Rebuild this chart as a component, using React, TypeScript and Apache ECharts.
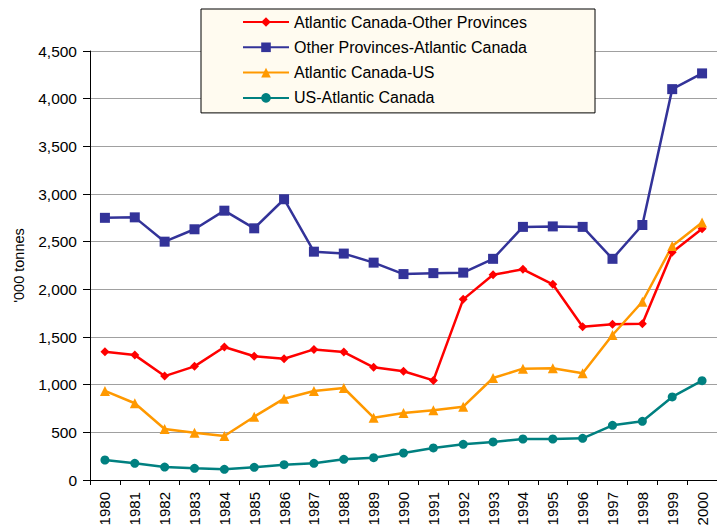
import React, { useEffect, useRef } from "react";
import * as echarts from "echarts";

const years = ["1980","1981","1982","1983","1984","1985","1986","1987","1988","1989","1990","1991","1992","1993","1994","1995","1996","1997","1998","1999","2000"];
const atlToOther = [1345,1310,1090,1192,1395,1298,1272,1370,1342,1182,1140,1045,1895,2153,2210,2053,1608,1633,1640,2390,2636];
const otherToAtl = [2750,2755,2500,2630,2825,2640,2945,2395,2375,2280,2160,2170,2175,2320,2655,2660,2655,2320,2675,4100,4265];
const atlToUS = [934,805,535,496,462,664,853,934,965,654,703,731,769,1070,1168,1172,1119,1521,1870,2455,2700];
const usToAtl = [210,175,136,123,112,133,161,175,217,234,283,336,374,399,430,430,437,574,616,871,1042];
const yTicks = { min: 0, max: 4500, interval: 500 };

const FONT = "'Liberation Sans', Arial, sans-serif";

export default function App() {
  const ref = useRef<HTMLDivElement>(null);
  useEffect(() => {
    if (!ref.current) return;
    const chart = echarts.init(ref.current, undefined, { renderer: "svg" });
    const mk = (name: string, data: number[], color: string, symbol: string, size: number) => ({
      name,
      type: "line",
      data,
      symbol,
      symbolSize: size,
      showAllSymbol: true,
      lineStyle: { color, width: 2.5 },
      itemStyle: { color },
      emphasis: { disabled: true },
    });
    chart.setOption({
      animation: false,
      backgroundColor: "#ffffff",
      textStyle: { fontFamily: FONT },
      grid: { left: 90, right: -9.3, top: 51, bottom: 49, containLabel: false },
      legend: {
        orient: "vertical",
        left: 201,
        top: 9,
        backgroundColor: "#FFFBF0",
        borderColor: "#000000",
        borderWidth: 1,
        padding: [5, 68, 7, 41],
        itemWidth: 46,
        itemHeight: 12,
        itemGap: 9.3,
        textStyle: { fontSize: 16, color: "#000", fontFamily: FONT },
        data: [
          "Atlantic Canada-Other Provinces",
          "Other Provinces-Atlantic Canada",
          "Atlantic Canada-US",
          "US-Atlantic Canada",
        ],
      },
      xAxis: {
        type: "category",
        data: years,
        boundaryGap: true,
        axisLine: { lineStyle: { color: "#000", width: 1 } },
        axisTick: { show: true, alignWithLabel: false, length: 5, lineStyle: { color: "#000" } },
        axisLabel: { rotate: 90, fontSize: 15, color: "#000", margin: 12, fontFamily: FONT, interval: 0 },
        splitLine: { show: false },
      },
      yAxis: {
        type: "value",
        min: yTicks.min,
        max: yTicks.max,
        interval: yTicks.interval,
        name: "'000 tonnes",
        nameLocation: "middle",
        nameGap: 64,
        nameRotate: 90,
        nameTextStyle: { fontSize: 14.5, color: "#000", fontFamily: FONT },
        axisLine: { show: true, lineStyle: { color: "#000", width: 1 } },
        axisTick: { show: true, length: 7, lineStyle: { color: "#000" } },
        axisLabel: {
          fontSize: 15.5,
          color: "#000",
          margin: 13,
          fontFamily: FONT,
          formatter: (v: number) => v.toLocaleString("en-US"),
        },
        splitLine: { show: true, lineStyle: { color: "#a0a0a0", width: 1 } },
      },
      series: [
        mk("Atlantic Canada-Other Provinces", atlToOther, "#FF0000", "diamond", 9),
        mk("Other Provinces-Atlantic Canada", otherToAtl, "#333399", "rect", 10),
        mk("Atlantic Canada-US", atlToUS, "#FF9900", "triangle", 10),
        mk("US-Atlantic Canada", usToAtl, "#008080", "circle", 9),
      ],
    });
    return () => chart.dispose();
  }, []);
  return (
    <div
      ref={ref}
      style={{ position: "absolute", left: 0, top: 0, width: 717, height: 529 }}
    />
  );
}
